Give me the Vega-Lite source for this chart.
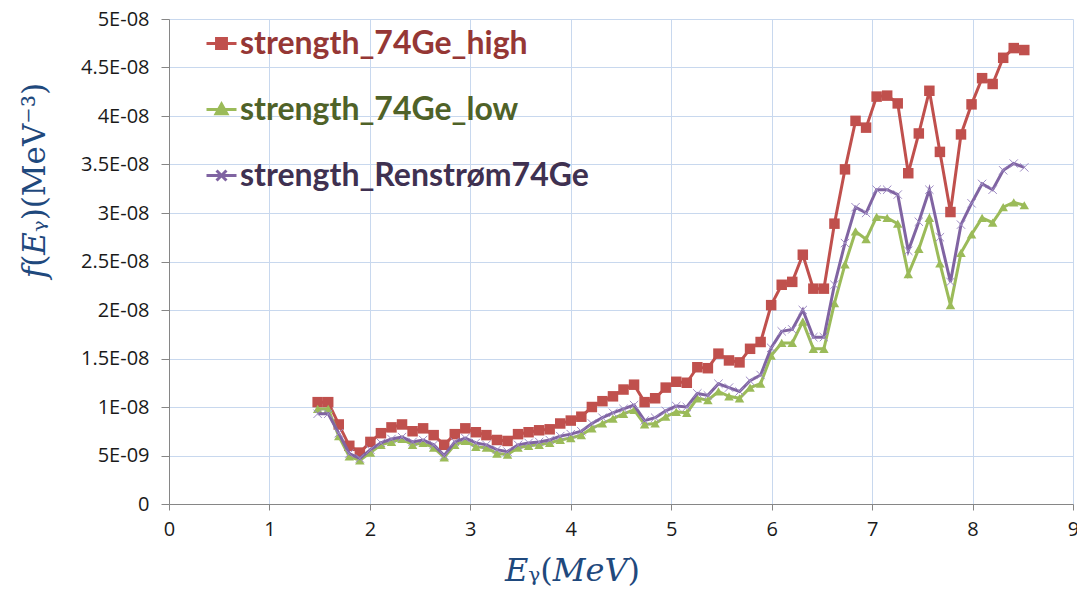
{
  "$schema": "https://vega.github.io/schema/vega-lite/v6.json",
  "width": 904,
  "height": 485,
  "autosize": {"type": "none"},
  "padding": {"left": 169, "top": 19, "right": 4, "bottom": 88},
  "background": "white",
  "config": {"view": {"stroke": null}},
  "data": {"values": [
    {"E": 1.48, "strength_74Ge_high": 10.5e-9, "strength_74Ge_low": 9.8e-9, "strength_Renstrøm74Ge": 9.3e-9},
    {"E": 1.585, "strength_74Ge_high": 10.5e-9, "strength_74Ge_low": 9.8e-9, "strength_Renstrøm74Ge": 9.3e-9},
    {"E": 1.69, "strength_74Ge_high": 8.2e-9, "strength_74Ge_low": 7.0e-9, "strength_Renstrøm74Ge": 7.3e-9},
    {"E": 1.795, "strength_74Ge_high": 6.0e-9, "strength_74Ge_low": 4.9e-9, "strength_Renstrøm74Ge": 5.2e-9},
    {"E": 1.9, "strength_74Ge_high": 5.3e-9, "strength_74Ge_low": 4.5e-9, "strength_Renstrøm74Ge": 4.7e-9},
    {"E": 2.005, "strength_74Ge_high": 6.4e-9, "strength_74Ge_low": 5.3e-9, "strength_Renstrøm74Ge": 5.6e-9},
    {"E": 2.11, "strength_74Ge_high": 7.3e-9, "strength_74Ge_low": 6.1e-9, "strength_Renstrøm74Ge": 6.3e-9},
    {"E": 2.215, "strength_74Ge_high": 7.9e-9, "strength_74Ge_low": 6.4e-9, "strength_Renstrøm74Ge": 6.7e-9},
    {"E": 2.32, "strength_74Ge_high": 8.2e-9, "strength_74Ge_low": 6.7e-9, "strength_Renstrøm74Ge": 6.9e-9},
    {"E": 2.425, "strength_74Ge_high": 7.5e-9, "strength_74Ge_low": 6.1e-9, "strength_Renstrøm74Ge": 6.4e-9},
    {"E": 2.53, "strength_74Ge_high": 7.8e-9, "strength_74Ge_low": 6.3e-9, "strength_Renstrøm74Ge": 6.6e-9},
    {"E": 2.635, "strength_74Ge_high": 7.1e-9, "strength_74Ge_low": 5.8e-9, "strength_Renstrøm74Ge": 6.1e-9},
    {"E": 2.74, "strength_74Ge_high": 6.1e-9, "strength_74Ge_low": 4.8e-9, "strength_Renstrøm74Ge": 5.0e-9},
    {"E": 2.845, "strength_74Ge_high": 7.2e-9, "strength_74Ge_low": 6.1e-9, "strength_Renstrøm74Ge": 6.4e-9},
    {"E": 2.95, "strength_74Ge_high": 7.8e-9, "strength_74Ge_low": 6.5e-9, "strength_Renstrøm74Ge": 6.8e-9},
    {"E": 3.055, "strength_74Ge_high": 7.4e-9, "strength_74Ge_low": 5.9e-9, "strength_Renstrøm74Ge": 6.3e-9},
    {"E": 3.16, "strength_74Ge_high": 7.1e-9, "strength_74Ge_low": 5.8e-9, "strength_Renstrøm74Ge": 6.1e-9},
    {"E": 3.265, "strength_74Ge_high": 6.6e-9, "strength_74Ge_low": 5.2e-9, "strength_Renstrøm74Ge": 5.6e-9},
    {"E": 3.37, "strength_74Ge_high": 6.5e-9, "strength_74Ge_low": 5.1e-9, "strength_Renstrøm74Ge": 5.4e-9},
    {"E": 3.475, "strength_74Ge_high": 7.2e-9, "strength_74Ge_low": 5.8e-9, "strength_Renstrøm74Ge": 6.1e-9},
    {"E": 3.58, "strength_74Ge_high": 7.4e-9, "strength_74Ge_low": 6.0e-9, "strength_Renstrøm74Ge": 6.3e-9},
    {"E": 3.685, "strength_74Ge_high": 7.6e-9, "strength_74Ge_low": 6.1e-9, "strength_Renstrøm74Ge": 6.4e-9},
    {"E": 3.79, "strength_74Ge_high": 7.7e-9, "strength_74Ge_low": 6.3e-9, "strength_Renstrøm74Ge": 6.6e-9},
    {"E": 3.895, "strength_74Ge_high": 8.3e-9, "strength_74Ge_low": 6.6e-9, "strength_Renstrøm74Ge": 7.0e-9},
    {"E": 4.0, "strength_74Ge_high": 8.6e-9, "strength_74Ge_low": 6.8e-9, "strength_Renstrøm74Ge": 7.2e-9},
    {"E": 4.105, "strength_74Ge_high": 9.0e-9, "strength_74Ge_low": 7.1e-9, "strength_Renstrøm74Ge": 7.5e-9},
    {"E": 4.21, "strength_74Ge_high": 10.0e-9, "strength_74Ge_low": 7.8e-9, "strength_Renstrøm74Ge": 8.3e-9},
    {"E": 4.315, "strength_74Ge_high": 10.6e-9, "strength_74Ge_low": 8.3e-9, "strength_Renstrøm74Ge": 8.9e-9},
    {"E": 4.42, "strength_74Ge_high": 11.1e-9, "strength_74Ge_low": 8.8e-9, "strength_Renstrøm74Ge": 9.4e-9},
    {"E": 4.525, "strength_74Ge_high": 11.8e-9, "strength_74Ge_low": 9.3e-9, "strength_Renstrøm74Ge": 9.8e-9},
    {"E": 4.63, "strength_74Ge_high": 12.3e-9, "strength_74Ge_low": 9.7e-9, "strength_Renstrøm74Ge": 10.2e-9},
    {"E": 4.735, "strength_74Ge_high": 10.5e-9, "strength_74Ge_low": 8.2e-9, "strength_Renstrøm74Ge": 8.6e-9},
    {"E": 4.84, "strength_74Ge_high": 10.9e-9, "strength_74Ge_low": 8.3e-9, "strength_Renstrøm74Ge": 8.9e-9},
    {"E": 4.945, "strength_74Ge_high": 12.0e-9, "strength_74Ge_low": 9.0e-9, "strength_Renstrøm74Ge": 9.6e-9},
    {"E": 5.05, "strength_74Ge_high": 12.6e-9, "strength_74Ge_low": 9.5e-9, "strength_Renstrøm74Ge": 10.1e-9},
    {"E": 5.155, "strength_74Ge_high": 12.5e-9, "strength_74Ge_low": 9.4e-9, "strength_Renstrøm74Ge": 10.0e-9},
    {"E": 5.26, "strength_74Ge_high": 14.1e-9, "strength_74Ge_low": 10.9e-9, "strength_Renstrøm74Ge": 11.4e-9},
    {"E": 5.365, "strength_74Ge_high": 14.0e-9, "strength_74Ge_low": 10.7e-9, "strength_Renstrøm74Ge": 11.2e-9},
    {"E": 5.47, "strength_74Ge_high": 15.5e-9, "strength_74Ge_low": 11.6e-9, "strength_Renstrøm74Ge": 12.4e-9},
    {"E": 5.575, "strength_74Ge_high": 14.8e-9, "strength_74Ge_low": 11.1e-9, "strength_Renstrøm74Ge": 12.0e-9},
    {"E": 5.68, "strength_74Ge_high": 14.6e-9, "strength_74Ge_low": 10.9e-9, "strength_Renstrøm74Ge": 11.6e-9},
    {"E": 5.785, "strength_74Ge_high": 16.0e-9, "strength_74Ge_low": 12.0e-9, "strength_Renstrøm74Ge": 12.7e-9},
    {"E": 5.89, "strength_74Ge_high": 16.7e-9, "strength_74Ge_low": 12.4e-9, "strength_Renstrøm74Ge": 13.3e-9},
    {"E": 5.995, "strength_74Ge_high": 20.5e-9, "strength_74Ge_low": 15.3e-9, "strength_Renstrøm74Ge": 16.1e-9},
    {"E": 6.1, "strength_74Ge_high": 22.6e-9, "strength_74Ge_low": 16.6e-9, "strength_Renstrøm74Ge": 17.8e-9},
    {"E": 6.205, "strength_74Ge_high": 22.9e-9, "strength_74Ge_low": 16.6e-9, "strength_Renstrøm74Ge": 18.0e-9},
    {"E": 6.31, "strength_74Ge_high": 25.7e-9, "strength_74Ge_low": 18.8e-9, "strength_Renstrøm74Ge": 20.0e-9},
    {"E": 6.415, "strength_74Ge_high": 22.2e-9, "strength_74Ge_low": 16.0e-9, "strength_Renstrøm74Ge": 17.2e-9},
    {"E": 6.52, "strength_74Ge_high": 22.2e-9, "strength_74Ge_low": 16.0e-9, "strength_Renstrøm74Ge": 17.2e-9},
    {"E": 6.625, "strength_74Ge_high": 28.9e-9, "strength_74Ge_low": 20.7e-9, "strength_Renstrøm74Ge": 22.6e-9},
    {"E": 6.73, "strength_74Ge_high": 34.5e-9, "strength_74Ge_low": 24.7e-9, "strength_Renstrøm74Ge": 26.9e-9},
    {"E": 6.835, "strength_74Ge_high": 39.5e-9, "strength_74Ge_low": 28.1e-9, "strength_Renstrøm74Ge": 30.6e-9},
    {"E": 6.94, "strength_74Ge_high": 38.8e-9, "strength_74Ge_low": 27.3e-9, "strength_Renstrøm74Ge": 30.0e-9},
    {"E": 7.045, "strength_74Ge_high": 42.0e-9, "strength_74Ge_low": 29.6e-9, "strength_Renstrøm74Ge": 32.4e-9},
    {"E": 7.15, "strength_74Ge_high": 42.1e-9, "strength_74Ge_low": 29.5e-9, "strength_Renstrøm74Ge": 32.4e-9},
    {"E": 7.255, "strength_74Ge_high": 41.3e-9, "strength_74Ge_low": 28.9e-9, "strength_Renstrøm74Ge": 31.9e-9},
    {"E": 7.36, "strength_74Ge_high": 34.1e-9, "strength_74Ge_low": 23.7e-9, "strength_Renstrøm74Ge": 26.1e-9},
    {"E": 7.465, "strength_74Ge_high": 38.2e-9, "strength_74Ge_low": 26.3e-9, "strength_Renstrøm74Ge": 29.1e-9},
    {"E": 7.57, "strength_74Ge_high": 42.6e-9, "strength_74Ge_low": 29.5e-9, "strength_Renstrøm74Ge": 32.4e-9},
    {"E": 7.675, "strength_74Ge_high": 36.3e-9, "strength_74Ge_low": 24.8e-9, "strength_Renstrøm74Ge": 27.5e-9},
    {"E": 7.78, "strength_74Ge_high": 30.1e-9, "strength_74Ge_low": 20.5e-9, "strength_Renstrøm74Ge": 22.9e-9},
    {"E": 7.885, "strength_74Ge_high": 38.1e-9, "strength_74Ge_low": 25.9e-9, "strength_Renstrøm74Ge": 28.8e-9},
    {"E": 7.99, "strength_74Ge_high": 41.2e-9, "strength_74Ge_low": 27.8e-9, "strength_Renstrøm74Ge": 31.0e-9},
    {"E": 8.095, "strength_74Ge_high": 43.9e-9, "strength_74Ge_low": 29.5e-9, "strength_Renstrøm74Ge": 33.0e-9},
    {"E": 8.2, "strength_74Ge_high": 43.3e-9, "strength_74Ge_low": 29.0e-9, "strength_Renstrøm74Ge": 32.4e-9},
    {"E": 8.305, "strength_74Ge_high": 46.0e-9, "strength_74Ge_low": 30.6e-9, "strength_Renstrøm74Ge": 34.4e-9},
    {"E": 8.41, "strength_74Ge_high": 47.0e-9, "strength_74Ge_low": 31.1e-9, "strength_Renstrøm74Ge": 35.1e-9},
    {"E": 8.515, "strength_74Ge_high": 46.8e-9, "strength_74Ge_low": 30.8e-9, "strength_Renstrøm74Ge": 34.7e-9}
  ]},
  "transform": [
    {"fold": ["strength_74Ge_high", "strength_74Ge_low", "strength_Renstrøm74Ge"], "as": ["series", "f"]}
  ],
  "encoding": {
    "x": {
      "field": "E", "type": "quantitative",
      "scale": {"domain": [0, 9], "nice": false, "zero": false},
      "axis": {
        "values": [0, 1, 2, 3, 4, 5, 6, 7, 8, 9], "format": "d",
        "labelFont": "Open Sans", "labelFontSize": 20, "labelColor": "#1a1a1a", "labelPadding": 9,
        "labelFlush": false,
        "grid": true, "gridColor": "#C8D8EE", "gridWidth": 1,
        "domainColor": "#868686", "tickColor": "#868686", "tickSize": 6,
        "title": "𝐸ᵧ(𝑀𝑒𝑉)", "titleFont": "DejaVu Serif", "titleFontSize": 32, "titleFontWeight": "normal",
        "titleColor": "#1F497D", "titleX": 403, "titleY": 66, "titleBaseline": "middle", "titleAlign": "center"
      }
    },
    "y": {
      "field": "f", "type": "quantitative",
      "scale": {"domain": [0, 5e-8], "nice": false},
      "axis": {
        "values": [0, 5e-9, 1e-8, 1.5e-8, 2e-8, 2.5e-8, 3e-8, 3.5e-8, 4e-8, 4.5e-8, 5e-8],
        "labelExpr": "datum.value == 0 ? '0' : (datum.value < 9e-9 ? format(datum.value * 1e9, '.2~f') + 'E-09' : format(datum.value * 1e8, '.2~f') + 'E-08')",
        "labelFont": "Open Sans", "labelFontSize": 20, "labelColor": "#1a1a1a", "labelPadding": 12,
        "grid": true, "gridColor": "#C8D8EE", "gridWidth": 1,
        "domainColor": "#868686", "tickColor": "#868686", "tickSize": 8,
        "title": "𝑓(𝐸ᵧ)(MeV⁻³)", "titleFont": "DejaVu Serif", "titleFontSize": 31, "titleFontWeight": "normal",
        "titleColor": "#1F497D", "titleX": -134, "titleY": 161, "titleAngle": -90,
        "titleBaseline": "middle", "titleAlign": "center"
      }
    },
    "color": {
      "field": "series", "type": "nominal",
      "scale": {
        "domain": ["strength_74Ge_high", "strength_74Ge_low", "strength_Renstrøm74Ge"],
        "range": ["#C0504D", "#9BBB59", "#8064A2"]
      },
      "legend": {
        "orient": "none", "legendX": 36, "legendY": 8, "title": null,
        "padding": 0, "offset": 0,
        "labelFont": "Lato", "labelFontSize": 32, "labelFontWeight": "bold", "labelLimit": 600,
        "labelOffset": 2, "rowPadding": 33, "symbolSize": 900, "symbolStrokeWidth": 3,
        "encode": {
          "symbols": {"update": {
            "shape": {"signal": "datum.value == 'strength_74Ge_high' ? 'M-1,0H1M-0.33,-0.33H0.33V0.33H-0.33Z' : (datum.value == 'strength_74Ge_low' ? 'M-1,0H1M0,-0.36L0.36,0.28H-0.36Z' : 'M-1,0H1M-0.33,-0.33L0.33,0.33M-0.33,0.33L0.33,-0.33')"},
            "fill": {"signal": "datum.value == 'strength_74Ge_high' ? '#C0504D' : (datum.value == 'strength_74Ge_low' ? '#9BBB59' : 'transparent')"},
            "stroke": {"signal": "datum.value == 'strength_74Ge_high' ? '#C0504D' : (datum.value == 'strength_74Ge_low' ? '#9BBB59' : '#8064A2')"},
            "strokeWidth": {"value": 3},
            "opacity": {"value": 1}
          }},
          "labels": {"update": {
            "fill": {"signal": "datum.value == 'strength_74Ge_high' ? '#953735' : (datum.value == 'strength_74Ge_low' ? '#4F6228' : '#3F3151')"}
          }}
        }
      }
    }
  },
  "layer": [
    {"transform": [{"filter": "datum.series == 'strength_74Ge_high'"}],
     "mark": {"type": "line", "strokeWidth": 3}},
    {"transform": [{"filter": "datum.series == 'strength_74Ge_high'"}],
     "mark": {"type": "point", "shape": "square", "filled": true, "size": 110, "opacity": 1}},
    {"transform": [{"filter": "datum.series == 'strength_74Ge_low'"}],
     "mark": {"type": "line", "strokeWidth": 3}},
    {"transform": [{"filter": "datum.series == 'strength_74Ge_low'"}],
     "mark": {"type": "point", "shape": "triangle-up", "filled": true, "size": 90, "opacity": 1}},
    {"transform": [{"filter": "datum.series == 'strength_Renstrøm74Ge'"}],
     "mark": {"type": "line", "strokeWidth": 3}},
    {"transform": [{"filter": "datum.series == 'strength_Renstrøm74Ge'"}],
     "mark": {"type": "point", "shape": "M-1,-1L1,1M-1,1L1,-1", "filled": false, "size": 70, "strokeWidth": 1, "opacity": 1},
     "encoding": {"color": {"value": "#9E8BC4"}}}
  ]
}
